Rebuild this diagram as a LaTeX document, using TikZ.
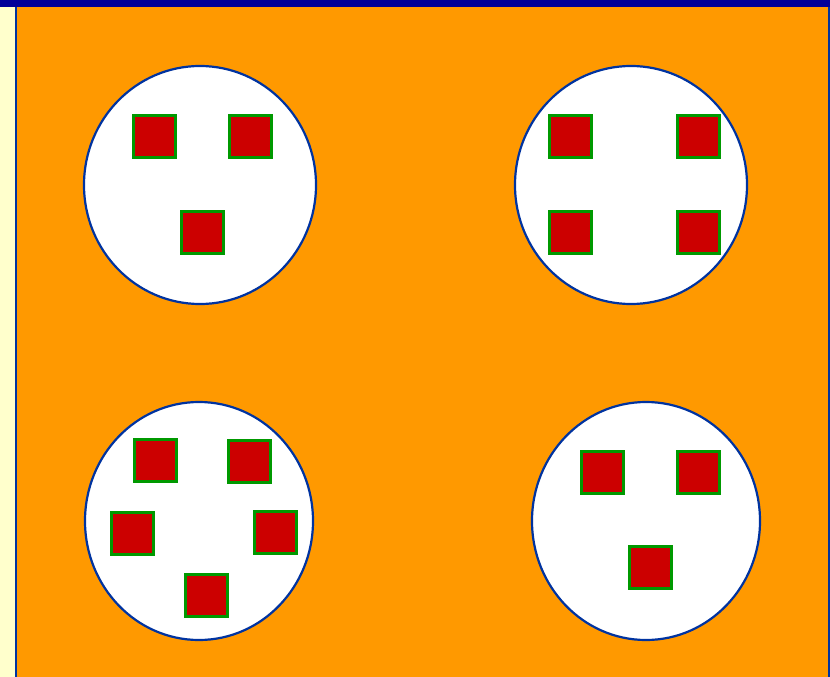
\documentclass[tikz,border=0pt]{standalone}
\usepackage{tikz}
\usetikzlibrary{positioning}
\definecolor{bgorange}{HTML}{FF9900}
\definecolor{bgyellow}{HTML}{FFFFCC}
\definecolor{barblue}{HTML}{000099}
\definecolor{rimblue}{HTML}{0033A0}
\definecolor{boxred}{HTML}{CC0000}
\definecolor{boxgreen}{HTML}{009900}
\tikzset{
  dish/.style={draw=rimblue,line width=2.2pt,fill=white},
  chip/.style={draw=boxgreen,line width=3pt,fill=boxred,minimum size=42pt,inner sep=0pt}
}
\begin{document}
\begin{tikzpicture}[x=1pt,y=-1pt]
 \useasboundingbox (0,0) rectangle (830,677);
 \fill[bgyellow] (0,0) rectangle (830,677);
 \fill[bgorange] (16,7) rectangle (830,677);
 \draw[rimblue,line width=2.2pt] (16,7) -- (16,677);
 \draw[rimblue,line width=2.2pt] (829,7) -- (829,677);
 \fill[barblue] (0,0) rectangle (830,7.5);
 % dishes
 \draw[dish] (200,185) ellipse [x radius=116,y radius=119];
 \draw[dish] (631,185) ellipse [x radius=116,y radius=119];
 \draw[dish] (199,521) ellipse [x radius=114,y radius=119];
 \draw[dish] (646,521) ellipse [x radius=114,y radius=119];
 % three
 \foreach \n/\x/\y in {a/154.5/136.5, b/250.5/136.5, c/202.5/232.5}
   \node[chip] (one\n) at (\x,\y) {};
 % four
 \foreach \n/\x/\y in {a/570.5/136.5, b/698.5/136.5, c/570.5/232.5, d/698.5/232.5}
   \node[chip] (two\n) at (\x,\y) {};
 % five
 \foreach \n/\x/\y in {a/155/460.5, b/249/461.5, c/132.5/533.5, d/275.5/532.5, e/206.5/595.5}
   \node[chip] (three\n) at (\x,\y) {};
 % three again
 \foreach \n/\x/\y in {a/602.5/472.5, b/698.5/472.5, c/650.5/567.5}
   \node[chip] (four\n) at (\x,\y) {};
\end{tikzpicture}
\end{document}
